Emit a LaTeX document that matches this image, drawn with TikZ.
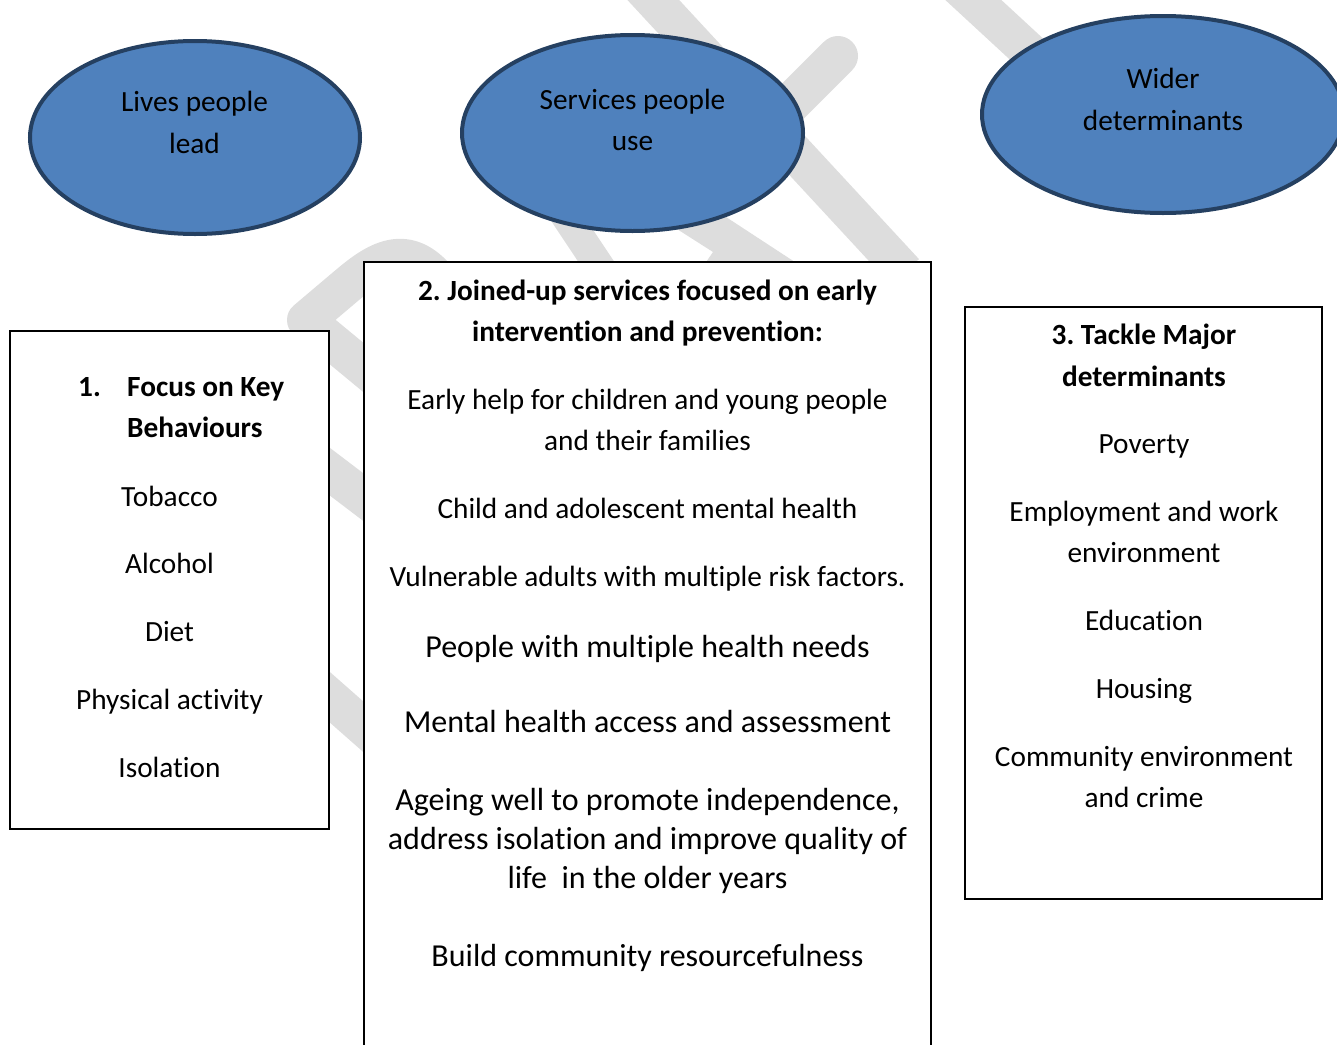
\documentclass[tikz,border=0pt]{standalone}
\usepackage{fontspec}
\setmainfont{Carlito}[Ligatures=NoCommon]
\usetikzlibrary{shapes.geometric}
\definecolor{wmgrey}{RGB}{221,221,221}
\definecolor{ovalfill}{RGB}{79,129,189}
\definecolor{ovalline}{RGB}{37,64,97}
\newcommand{\bodyfont}{\fontsize{29.3}{41}\selectfont}
\newcommand{\bigfont}{\fontsize{32}{39}\selectfont}
\frenchspacing
\begin{document}
\begin{tikzpicture}[x=1pt,y=-1pt,
  wm/.style={draw=wmgrey, line width=38pt, line cap=round, line join=round},
  oval/.style={ellipse, draw=ovalline, fill=ovalfill, line width=4pt, inner sep=0pt, outer sep=0pt},
  panel/.style={rectangle, draw=black, line width=1.8pt, fill=white, inner sep=0pt, outer sep=0pt, anchor=north west},
  txt/.style={font=\bodyfont, anchor=base, inner sep=0pt, text=black},
  btxt/.style={font=\bodyfont\bfseries, anchor=base, inner sep=0pt, text=black},
  bigtxt/.style={font=\bigfont, anchor=base, inner sep=0pt, text=black}]
\useasboundingbox (0,0) rectangle (1337,1044);
\begin{scope}
\clip (0,0) rectangle (1337,1044);
% watermark
\draw[wm] (560,530) -- (306,320) -- (345,287) .. controls (370,266) and (405,236) .. (440,282) -- (520,380);
\draw[wm] (300,449) -- (400,525);
\draw[wm] (300,671) -- (400,759);
\draw[wm, line cap=butt] (620,-36) -- (905,272);
\draw[wm, line width=40pt] (838,56) -- (770,124);
\draw[wm] (930,-40) -- (1060,80);
\draw[wm, line width=30pt] (530,162) -- (615,290);
\fill[wmgrey] (655,215) -- (700,200) -- (804,268) -- (702,268) -- (713,252) -- cycle;
% boxes
\node[panel, minimum width=319pt, minimum height=498pt] (box1) at (10,331) {};
\node[panel, minimum width=567pt, minimum height=798pt] (box2) at (364,262) {};
\node[panel, minimum width=357pt, minimum height=592pt] (box3) at (965,307) {};
% ellipses
\node[oval, minimum width=330pt, minimum height=193pt] (lives) at (195,137.5) {};
\node[oval, minimum width=341pt, minimum height=196pt] (services) at (632.5,133) {};
\node[oval, minimum width=362pt, minimum height=197pt] (wider) at (1163,114.5) {};
% ellipse texts
\node[txt] (l1) at (194.5,111) {Lives people};
\node[txt] (l2) at (194.5,153) {lead};
\node[txt] (s1) at (632.5,109) {Services people};
\node[txt] (s2) at (632.5,150) {use};
\node[txt] (w1) at (1163,88) {Wider};
\node[txt] (w2) at (1163,130) {determinants};
% box 1
\node[btxt, anchor=base west] (n1) at (78,396) {1.};
\node[btxt, anchor=base west] (h1a) at (127,396) {Focus on Key};
\node[btxt, anchor=base west] (h1b) at (127,437) {Behaviours};
\node[txt] (a1) at (169.5,506) {Tobacco};
\node[txt] (a2) at (169.5,573) {Alcohol};
\node[txt] (a3) at (169.5,641) {Diet};
\node[txt] (a4) at (169.5,709) {Physical activity};
\node[txt] (a5) at (169.5,777) {Isolation};
% box 2
\node[btxt] (h2a) at (647.5,300) {2. Joined-up services focused on early};
\node[btxt] (h2b) at (647.5,341) {intervention and prevention:};
\node[txt] (b1) at (647.5,409) {Early help for children and young people};
\node[txt] (b1b) at (647.5,450) {and their families};
\node[txt] (b2) at (647.5,518) {Child and adolescent mental health};
\node[txt] (b3) at (647.5,586) {Vulnerable adults with multiple risk factors.};
\node[bigtxt] (b4) at (647.5,657) {People with multiple health needs};
\node[bigtxt] (b5) at (647.5,732) {Mental health access and assessment};
\node[bigtxt] (b6) at (647.5,810) {Ageing well to promote independence,};
\node[bigtxt] (b6b) at (647.5,849) {address isolation and improve quality of};
\node[bigtxt] (b6c) at (647.5,888) {life~ in the older years};
\node[bigtxt] (b7) at (647.5,966) {Build community resourcefulness};
% box 3
\node[btxt] (h3a) at (1144,344) {3. Tackle Major};
\node[btxt] (h3b) at (1144,386) {determinants};
\node[txt] (c1) at (1144,453) {Poverty};
\node[txt] (c2) at (1144,521) {Employment and work};
\node[txt] (c2b) at (1144,562) {environment};
\node[txt] (c3) at (1144,630) {Education};
\node[txt] (c4) at (1144,698) {Housing};
\node[txt] (c5) at (1144,766) {Community environment};
\node[txt] (c5b) at (1144,807) {and crime};
\end{scope}
\end{tikzpicture}
\end{document}
